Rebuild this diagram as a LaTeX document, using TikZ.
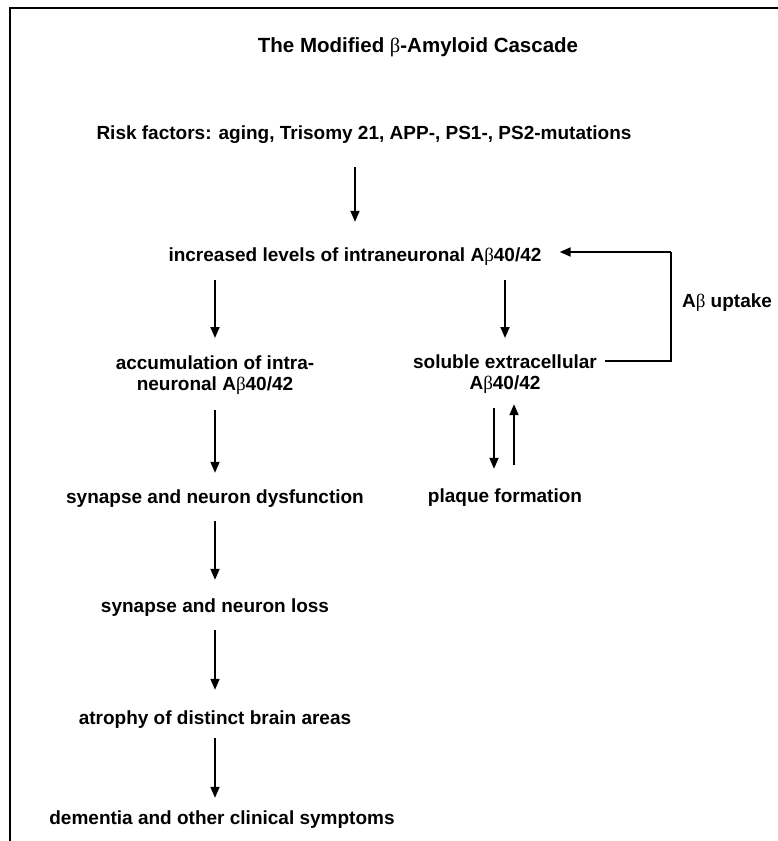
\documentclass[tikz,border=0pt]{standalone}
\usepackage{fontspec}
\setmainfont{Liberation Sans}
\newfontfamily\greekf{Liberation Serif}
\usetikzlibrary{arrows.meta,calc}
\newcommand{\gb}{{\greekf\mdseries β}}
\begin{document}
\begin{tikzpicture}[x=1pt,y=-1pt,
  lbl/.style={inner sep=0pt, font=\fontsize{19}{21}\bfseries\selectfont, text height=14pt, text depth=4pt, anchor=base},
  lbltwo/.style={inner sep=0pt, font=\fontsize{19}{21}\bfseries\selectfont, align=center, anchor=north},
  ttl/.style={inner sep=0pt, font=\fontsize{20.5}{24}\bfseries\selectfont, anchor=base},
  arr/.style={line width=1.8pt, -{Triangle[width=9pt,length=11pt]}},
  fb/.style={line width=1.8pt},
  frame/.style={line width=2.8pt}]
\useasboundingbox (0,0) rectangle (778,841);
% frame (open on right and bottom, as cropped)
\draw[frame] (10,841) -- (10,8) -- (778,8);
% title
\node[ttl] (title) at (418,52) {The Modified \gb-Amyloid Cascade};
% nodes
\node[lbl] (risk) at (364,139) {Risk factors: aging, Trisomy 21, APP-, PS1-, PS2-mutations};
\node[lbl] (incr) at (355,261) {increased levels of intraneuronal A\gb40/42};
\node[lbltwo] (accum) at (215,356) {accumulation of intra-\\neuronal A\gb40/42};
\node[lbltwo] (sol) at (505,355) {soluble extracellular\\A\gb40/42};
\node[lbl] (uptake) at (727,307) {A\gb\ uptake};
\node[lbl] (plaque) at (505,502) {plaque formation};
\node[lbl] (dys) at (215,503) {synapse and neuron dysfunction};
\node[lbl] (loss) at (215,612) {synapse and neuron loss};
\node[lbl] (atro) at (215,724) {atrophy of distinct brain areas};
\node[lbl] (dem) at (222,824) {dementia and other clinical symptoms};
% feedback corner coordinates
\coordinate (fbr) at (671,361);
\coordinate (fbt) at (671,252);
% arrows
\draw[arr, shorten <=24pt, shorten >=25pt] (risk.south -| incr.north) -- (incr.north);
\draw[arr, shorten <=15pt, shorten >=18pt] (incr.south -| accum.north) -- (accum.north);
\draw[arr, shorten <=15pt, shorten >=17pt] (incr.south -| sol.north) -- (sol.north);
\draw[arr, shorten <=15pt, shorten >=16pt] (accum.south) -- (dys.north);
\draw[arr, shorten <=14pt, shorten >=18pt] (dys.south) -- (loss.north);
\draw[arr, shorten <=14pt, shorten >=20pt] (loss.south) -- (atro.north);
\draw[arr, shorten <=10pt, shorten >=12pt] (atro.south) -- (dem.north -| atro.south);
\draw[arr, shorten <=14pt, shorten >=19pt] ([xshift=-11pt]sol.south) -- ([xshift=-11pt]sol.south |- plaque.north);
\draw[arr, shorten <=23pt, shorten >=10pt] ([xshift=9pt]sol.south |- plaque.north) -- ([xshift=9pt]sol.south);
\draw[fb] ($(sol.north east |- fbr)+(8,0)$) -- (fbr) -- (fbt);
\draw[arr] (fbt) -- ($(incr.east |- fbt)+(18,0)$);
\end{tikzpicture}
\end{document}
